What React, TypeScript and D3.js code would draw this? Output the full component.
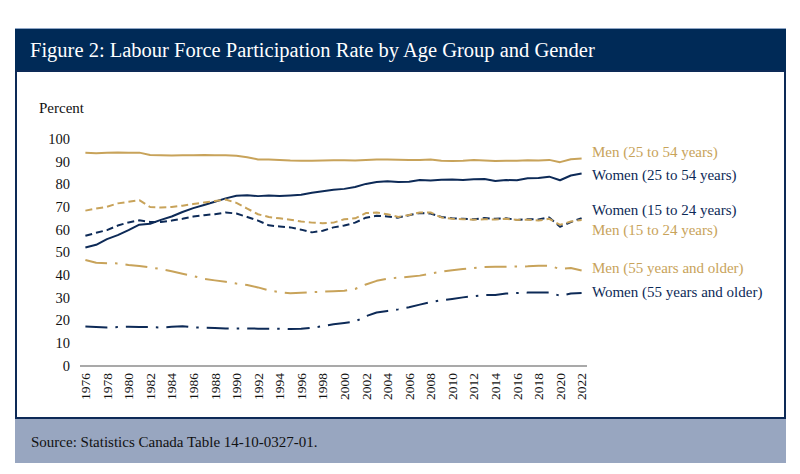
import React from "react";
import * as d3 from "d3";

const years: number[] = d3.range(1976, 2023);
const tickYears: number[] = d3.range(1976, 2023, 2);
const yTicks: number[] = [0, 10, 20, 30, 40, 50, 60, 70, 80, 90, 100];

const menPrime: number[] = [94.1, 93.9, 94.1, 94.3, 94.2, 94.2, 93.2, 93.0, 92.9, 93.0, 93.1, 93.2, 93.0, 93.1, 92.8, 92.2, 91.2, 91.2, 91.0, 90.7, 90.6, 90.6, 90.7, 90.8, 90.8, 90.7, 91.0, 91.2, 91.2, 91.1, 91.0, 90.9, 91.2, 90.6, 90.5, 90.6, 90.9, 90.7, 90.5, 90.6, 90.6, 90.8, 90.7, 91.0, 90.0, 91.3, 91.6];
const womenPrime: number[] = [52.3, 53.5, 56.0, 57.8, 60.0, 62.4, 62.8, 64.5, 66.0, 68.0, 69.7, 71.1, 72.5, 74.0, 75.2, 75.4, 75.0, 75.3, 75.1, 75.3, 75.6, 76.5, 77.2, 77.8, 78.2, 79.0, 80.4, 81.2, 81.6, 81.2, 81.3, 82.1, 81.9, 82.2, 82.3, 82.1, 82.4, 82.6, 81.7, 82.1, 82.0, 82.9, 83.0, 83.6, 82.0, 84.1, 85.0];
const womenYouth: number[] = [57.5, 58.8, 60.0, 62.0, 63.4, 64.3, 63.6, 63.6, 64.2, 65.0, 66.0, 66.6, 67.0, 67.8, 67.3, 65.8, 64.2, 62.1, 61.6, 61.2, 60.2, 59.0, 59.7, 61.2, 62.0, 63.3, 65.5, 66.3, 66.0, 65.5, 66.6, 67.5, 67.3, 65.8, 65.2, 65.0, 64.8, 65.3, 65.0, 65.2, 64.5, 64.8, 64.7, 65.6, 61.5, 63.5, 65.3];
const menYouth: number[] = [68.6, 69.5, 70.3, 71.8, 72.5, 73.2, 70.2, 70.0, 70.2, 70.8, 71.5, 72.2, 72.8, 73.5, 72.0, 69.5, 67.0, 65.8, 65.2, 64.6, 63.8, 63.3, 63.0, 63.3, 64.8, 65.2, 67.5, 67.8, 67.0, 65.8, 66.7, 67.8, 67.8, 65.6, 65.0, 64.8, 64.6, 64.8, 64.7, 65.0, 64.5, 64.6, 64.2, 65.0, 62.3, 63.8, 64.5];
const menOld: number[] = [46.8, 45.6, 45.4, 45.3, 44.6, 44.2, 43.5, 42.8, 41.8, 40.7, 39.7, 38.5, 37.8, 37.2, 36.4, 35.8, 34.7, 33.4, 32.6, 32.1, 32.3, 32.6, 32.8, 33.0, 33.2, 34.0, 36.0, 37.6, 38.5, 39.0, 39.4, 39.9, 40.8, 41.6, 42.3, 42.8, 43.2, 43.7, 43.8, 43.8, 43.9, 44.0, 44.3, 44.3, 42.8, 43.3, 42.2];
const womenOld: number[] = [17.4, 17.2, 17.0, 17.2, 17.3, 17.2, 17.2, 17.0, 17.3, 17.6, 17.0, 16.9, 16.8, 16.6, 16.5, 16.6, 16.5, 16.5, 16.4, 16.3, 16.4, 16.9, 17.6, 18.4, 19.0, 19.6, 22.0, 23.6, 24.3, 25.0, 25.9, 27.1, 28.2, 29.0, 29.6, 30.3, 30.8, 31.3, 31.3, 32.0, 32.2, 32.4, 32.4, 32.5, 31.0, 32.0, 32.2];

const seriesNames: string[] = [
  "Men (25 to 54 years)",
  "Women (25 to 54 years)",
  "Women (15 to 24 years)",
  "Men (15 to 24 years)",
  "Men (55 years and older)",
  "Women (55 years and older)",
];

const GOLD = "#c8a35a";
const NAVY = "#0d2a57";
const SERIF = "'Liberation Serif', 'DejaVu Serif', serif";

export default function App() {
  const x = d3.scaleBand<number>().domain(years).range([80, 587]);
  const y = d3.scaleLinear().domain([0, 100]).range([366, 139.5]);
  const cx = (yr: number) => (x(yr) as number) + x.bandwidth() / 2;
  const line = d3
    .line<number>()
    .x((_, i) => cx(years[i]))
    .y((d) => y(d));

  const series = [
    { name: seriesNames[0], data: menPrime, color: GOLD, dash: "none", ly: 151.7 },
    { name: seriesNames[1], data: womenPrime, color: NAVY, dash: "none", ly: 174.3 },
    { name: seriesNames[2], data: womenYouth, color: NAVY, dash: "7 4", ly: 210 },
    { name: seriesNames[3], data: menYouth, color: GOLD, dash: "7 4", ly: 230 },
    { name: seriesNames[4], data: menOld, color: GOLD, dash: "22 8 2.5 8", ly: 267.7 },
    { name: seriesNames[5], data: womenOld, color: NAVY, dash: "22 8 2.5 8", ly: 291.7 },
  ];

  return (
    <svg
      width={800}
      height={474}
      style={{ position: "fixed", top: 0, left: 0, display: "block", background: "#fff" }}
    >
      {/* header banner */}
      <rect x={15} y={28} width={771} height={43} fill="#002a57" />
      <line x1={15} x2={786} y1={28.5} y2={28.5} stroke="#8fa6c6" strokeWidth={1} />
      <text x={30} y={57} fill="#fff" fontFamily={SERIF} fontSize={20.5}>
        Figure 2: Labour Force Participation Rate by Age Group and Gender
      </text>
      {/* panel */}
      <rect x={16} y={71} width={769} height={347} fill="#fff" stroke="#0d2a57" strokeWidth={2} />
      {/* source band */}
      <rect x={15} y={419} width={771} height={44} fill="#98a6c0" />
      <text x={31} y={447} fill="#111" fontFamily={SERIF} fontSize={15}>
        Source: Statistics Canada Table 14-10-0327-01.
      </text>

      {/* y label */}
      <text x={39} y={113} fill="#111" fontFamily={SERIF} fontSize={15}>
        Percent
      </text>
      {/* y ticks */}
      {yTicks.map((t) => (
        <text
          key={t}
          x={70}
          y={y(t)}
          dy="0.32em"
          textAnchor="end"
          fill="#111"
          fontFamily={SERIF}
          fontSize={14.5}
        >
          {t}
        </text>
      ))}
      {/* x axis line */}
      <line x1={80} x2={587} y1={366} y2={366} stroke="#8c8c8c" strokeWidth={1.5} />
      {tickYears.map((yr) => (
        <text
          key={yr}
          transform={`translate(${cx(yr)},373) rotate(-90)`}
          textAnchor="end"
          dy="0.35em"
          fill="#111"
          fontFamily={SERIF}
          fontSize={13.5}
        >
          {yr}
        </text>
      ))}

      {/* lines */}
      {series.map((s) => (
        <path
          key={s.name}
          d={line(s.data) || ""}
          fill="none"
          stroke={s.color}
          strokeWidth={2}
          strokeDasharray={s.dash}
          strokeLinejoin="round"
        />
      ))}

      {/* labels */}
      {series.map((s) => (
        <text
          key={s.name + "l"}
          x={592}
          y={s.ly}
          dy="0.35em"
          fill={s.color}
          fontFamily={SERIF}
          fontSize={15}
        >
          {s.name}
        </text>
      ))}
    </svg>
  );
}
